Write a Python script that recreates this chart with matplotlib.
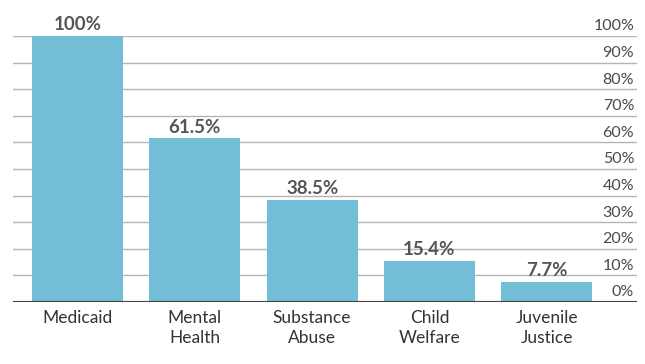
import matplotlib
matplotlib.use("Agg")
from matplotlib import pyplot as plt
from matplotlib.transforms import ScaledTranslation

categories = ["Medicaid", "Mental\nHealth", "Substance\nAbuse", "Child\nWelfare", "Juvenile\nJustice"]
values = [100, 61.5, 38.5, 15.4, 7.7]
value_labels = ["100%", "61.5%", "38.5%", "15.4%", "7.7%"]
yticks = list(range(0, 101, 10))
ytick_labels = [f"{t}%" for t in yticks]

bar_color = "#73bed7"
text_color = "#555555"

fig = plt.figure(figsize=(6.45, 3.64), dpi=100)
ax = fig.add_axes([13 / 645, 62 / 364, 624 / 645, 266 / 364])

x = list(range(len(categories)))
ax.bar(x, values, width=0.776, color=bar_color, zorder=2)
for xi, v, lab in zip(x, values, value_labels):
    ax.text(xi, v + 1.0, lab, ha="center", va="bottom", fontsize=13.5,
            fontweight="bold", color=text_color, family="Lato")

ax.set_xlim(-0.55, 4.77)
ax.set_ylim(0, 100)

# grid
for t in yticks[1:]:
    ax.axhline(t, color="#b4b4b4", lw=1, zorder=1)
ax.axhline(0, color="#444444", lw=1.5, zorder=3)

for s in ax.spines.values():
    s.set_visible(False)

ax.set_xticks(x)
ax.set_xticklabels(categories, fontsize=12.5, color="#333333", family="Lato",
                   linespacing=1.3)
ax.tick_params(axis="x", length=0, pad=6)

ax.yaxis.tick_right()
ax.set_yticks(yticks)
ax.set_yticklabels(ytick_labels, fontsize=11.5, color="#4a4a4a", family="Lato")
ax.tick_params(axis="y", length=0, pad=0)
off = ScaledTranslation(-2 / 72, 4 / 72, fig.dpi_scale_trans)
for lab in ax.get_yticklabels():
    lab.set_horizontalalignment("right")
    lab.set_verticalalignment("baseline")
    lab.set_transform(lab.get_transform() + off)

fig.savefig("out.png", dpi=100)
